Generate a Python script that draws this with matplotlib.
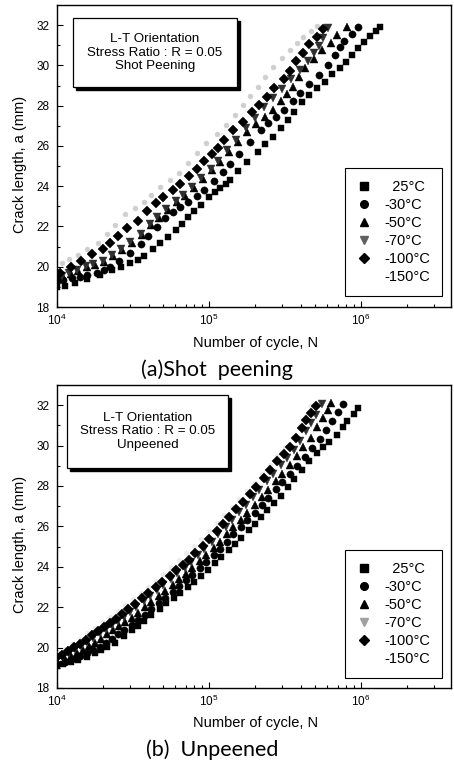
import numpy as np
import matplotlib
matplotlib.use('Agg')
import matplotlib.pyplot as plt
from matplotlib.patches import Rectangle
from matplotlib.ticker import LogLocator, NullFormatter, FixedLocator
from matplotlib.lines import Line2D

plt.rcParams['font.family'] = ['Liberation Sans', 'DejaVu Sans']
plt.rcParams['mathtext.fontset'] = 'custom'
plt.rcParams['mathtext.rm'] = 'Liberation Sans'

# ---------------- data: (log10 N, crack length a [mm]) ----------------
temps = ['25°C', '-30°C', '-50°C', '-70°C', '-100°C', '-150°C']

# (a) Shot peening
a_25 = [(4.00,19.00),(4.05,19.05),(4.12,19.20),(4.20,19.40),(4.28,19.60),(4.36,19.83),(4.42,20.00),(4.48,20.20),
        (4.53,20.35),(4.57,20.52),(4.63,20.86),(4.68,21.18),(4.73,21.50),(4.78,21.80),(4.82,22.14),(4.86,22.45),
        (4.90,22.75),(4.95,23.05),(5.00,23.45),(5.04,23.70),(5.07,23.90),(5.11,24.10),(5.14,24.30),(5.19,24.75),
        (5.25,25.20),(5.32,25.70),(5.37,26.10),(5.42,26.45),(5.47,26.90),(5.52,27.30),(5.56,27.70),(5.61,28.20),
        (5.66,28.55),(5.71,28.90),(5.76,29.20),(5.81,29.55),(5.86,29.85),(5.90,30.15),(5.94,30.50),(5.98,30.85),
        (6.02,31.15),(6.06,31.45),(6.10,31.70),(6.125,31.90)]
a_m30 = [(4.00,19.30),(4.04,19.35),(4.10,19.42),(4.15,19.50),(4.20,19.60),(4.26,19.70),(4.31,19.85),(4.35,20.00),
         (4.41,20.30),(4.48,20.70),(4.55,21.15),(4.60,21.55),(4.66,21.95),(4.71,22.40),(4.76,22.70),(4.81,22.95),
         (4.86,23.20),(4.92,23.50),(4.97,23.80),(5.03,24.25),(5.09,24.70),(5.14,25.10),(5.20,25.60),(5.27,26.20),
         (5.34,26.80),(5.39,27.15),(5.44,27.45),(5.49,27.80),(5.55,28.25),(5.60,28.65),(5.66,29.10),(5.72,29.50),
         (5.78,30.00),(5.83,30.50),(5.86,30.90),(5.89,31.20),(5.94,31.55),(5.98,31.90)]
a_m50 = [(4.00,19.50),(4.04,19.50),(4.09,19.65),(4.14,19.80),(4.20,20.00),(4.25,20.10),(4.31,20.25),(4.37,20.55),
         (4.43,20.85),(4.49,21.20),(4.56,21.60),(4.62,22.05),(4.67,22.40),(4.73,22.80),(4.79,23.20),(4.84,23.50),
         (4.90,23.90),(4.96,24.35),(5.02,24.80),(5.07,25.20),(5.13,25.70),(5.19,26.20),(5.25,26.70),(5.31,27.10),
         (5.37,27.45),(5.42,27.80),(5.47,28.25),(5.51,28.60),(5.55,28.95),(5.59,29.40),(5.63,29.85),(5.69,30.30),
         (5.74,30.75),(5.80,31.10),(5.84,31.50),(5.91,31.90)]
a_m70 = [(4.00,19.60),(4.03,19.55),(4.08,19.70),(4.13,19.85),(4.19,20.05),(4.24,20.15),(4.30,20.30),(4.36,20.60),
         (4.42,20.90),(4.48,21.25),(4.55,21.65),(4.61,22.10),(4.66,22.45),(4.72,22.85),(4.78,23.25),(4.83,23.55),
         (4.89,23.95),(4.95,24.40),(5.01,24.85),(5.06,25.25),(5.12,25.80),(5.18,26.30),(5.24,26.90),(5.30,27.40),
         (5.36,27.95),(5.42,28.40),(5.48,28.85),(5.54,29.30),(5.60,29.75),(5.65,30.20),(5.69,30.60),(5.72,30.95),
         (5.75,31.35),(5.78,31.85)]
a_m100 = [(4.00,19.60),(4.02,19.70),(4.09,20.00),(4.16,20.30),(4.23,20.65),(4.30,20.90),(4.35,21.20),(4.40,21.55),
          (4.46,21.90),(4.53,22.25),(4.59,22.75),(4.65,23.15),(4.70,23.45),(4.76,23.80),(4.81,24.10),(4.87,24.50),
          (4.92,24.85),(4.97,25.25),(5.02,25.60),(5.06,25.90),(5.10,26.30),(5.16,26.80),(5.22,27.20),(5.28,27.70),
          (5.33,28.05),(5.38,28.45),(5.43,28.90),(5.49,29.30),(5.53,29.70),(5.57,30.20),(5.62,30.60),(5.66,31.05),
          (5.71,31.40),(5.75,31.80)]
a_m150 = [(4.03,20.20),(4.08,20.40),(4.14,20.60),(4.20,20.90),(4.27,21.20),(4.33,21.65),(4.38,22.05),(4.45,22.60),
          (4.51,22.90),(4.57,23.20),(4.62,23.55),(4.68,23.95),(4.74,24.30),(4.80,24.65),(4.86,25.15),(4.92,25.65),
          (4.98,26.15),(5.05,26.60),(5.11,27.05),(5.17,27.55),(5.22,28.05),(5.27,28.50),(5.32,28.95),(5.37,29.40),
          (5.42,29.90),(5.48,30.35),(5.53,30.75),(5.58,31.10),(5.62,31.40),(5.67,31.70),(5.71,31.95)]

# (b) Unpeened
b_25 = [(4.00,19.10),(4.04,19.20),(4.09,19.30),(4.14,19.40),(4.20,19.55),(4.25,19.75),(4.29,19.90),(4.33,20.02),
        (4.38,20.25),(4.44,20.55),(4.49,20.85),(4.53,21.05),(4.57,21.30),(4.62,21.60),(4.68,21.90),(4.72,22.20),
        (4.77,22.45),(4.81,22.70),(4.86,23.00),(4.90,23.25),(4.95,23.55),(4.99,23.85),(5.04,24.20),(5.08,24.50),
        (5.13,24.85),(5.17,25.15),(5.21,25.45),(5.26,25.80),(5.30,26.10),(5.34,26.45),(5.38,26.80),(5.43,27.15),
        (5.47,27.50),(5.52,27.95),(5.56,28.35),(5.61,28.80),(5.66,29.25),(5.71,29.65),(5.75,29.95),(5.79,30.20),
        (5.84,30.50),(5.88,30.90),(5.91,31.20),(5.95,31.55),(5.98,31.85)]
b_m30 = [(4.00,19.20),(4.05,19.30),(4.10,19.45),(4.15,19.60),(4.20,19.75),(4.24,19.90),(4.28,20.05),(4.32,20.25),
         (4.36,20.45),(4.40,20.65),(4.44,20.85),(4.49,21.10),(4.53,21.35),(4.58,21.60),(4.62,21.90),(4.67,22.20),
         (4.71,22.45),(4.76,22.75),(4.80,23.05),(4.85,23.35),(4.89,23.60),(4.94,23.95),(4.98,24.25),(5.03,24.60),
         (5.07,24.90),(5.12,25.25),(5.16,25.60),(5.21,25.95),(5.25,26.30),(5.30,26.65),(5.35,27.05),(5.39,27.40),
         (5.44,27.85),(5.48,28.20),(5.53,28.60),(5.58,29.00),(5.63,29.45),(5.68,29.90),(5.73,30.35),(5.77,30.75),
         (5.81,31.20),(5.85,31.65),(5.88,32.05)]
b_m50 = [(4.00,19.30),(4.05,19.45),(4.09,19.60),(4.13,19.75),(4.17,19.90),(4.21,20.10),(4.25,20.25),(4.29,20.45),
         (4.33,20.65),(4.37,20.85),(4.41,21.05),(4.45,21.25),(4.49,21.45),(4.53,21.70),(4.58,22.00),(4.62,22.25),
         (4.67,22.55),(4.71,22.80),(4.76,23.10),(4.80,23.40),(4.85,23.65),(4.89,23.95),(4.94,24.30),(4.98,24.60),
         (5.03,24.95),(5.07,25.25),(5.12,25.60),(5.16,25.95),(5.21,26.30),(5.25,26.65),(5.30,27.05),(5.35,27.45),
         (5.39,27.80),(5.44,28.25),(5.48,28.60),(5.53,29.05),(5.58,29.50),(5.62,29.95),(5.67,30.40),(5.71,30.90),
         (5.75,31.35),(5.78,31.75),(5.80,32.10)]
b_m70 = [(4.00,19.45),(4.04,19.60),(4.08,19.75),(4.12,19.95),(4.16,20.10),(4.20,20.30),(4.24,20.50),(4.28,20.70),
         (4.32,20.90),(4.36,21.10),(4.40,21.30),(4.44,21.50),(4.48,21.75),(4.52,22.00),(4.57,22.30),(4.61,22.55),
         (4.66,22.85),(4.70,23.10),(4.75,23.40),(4.79,23.70),(4.84,23.95),(4.88,24.25),(4.93,24.60),(4.97,24.90),
         (5.02,25.25),(5.06,25.60),(5.11,25.95),(5.15,26.30),(5.20,26.70),(5.24,27.05),(5.29,27.45),(5.33,27.80),
         (5.38,28.25),(5.42,28.60),(5.47,29.05),(5.51,29.40),(5.56,29.80),(5.60,30.25),(5.64,30.70),(5.67,31.10),
         (5.70,31.50),(5.74,32.05)]
b_m100 = [(4.00,19.55),(4.03,19.65),(4.07,19.85),(4.11,20.05),(4.15,20.20),(4.19,20.40),(4.23,20.60),(4.27,20.80),
          (4.31,21.00),(4.35,21.20),(4.39,21.40),(4.43,21.65),(4.47,21.90),(4.51,22.15),(4.56,22.45),(4.60,22.70),
          (4.65,23.00),(4.69,23.25),(4.74,23.55),(4.78,23.85),(4.83,24.10),(4.87,24.35),(4.91,24.70),(4.96,25.05),
          (5.00,25.40),(5.05,25.75),(5.09,26.10),(5.13,26.45),(5.18,26.85),(5.22,27.20),(5.27,27.60),(5.31,27.95),
          (5.36,28.40),(5.40,28.80),(5.45,29.25),(5.49,29.60),(5.53,29.95),(5.57,30.40),(5.61,30.85),(5.64,31.25),
          (5.67,31.60),(5.70,31.95)]
b_m150 = [(4.00,19.70),(4.05,19.95),(4.10,20.20),(4.15,20.45),(4.20,20.70),(4.25,20.95),(4.30,21.25),(4.35,21.50),
          (4.40,21.80),(4.45,22.10),(4.50,22.40),(4.55,22.70),(4.60,23.00),(4.65,23.30),(4.70,23.65),(4.75,24.00),
          (4.80,24.35),(4.85,24.70),(4.90,25.05),(4.95,25.40),(5.00,25.75),(5.05,26.15),(5.10,26.55),(5.15,26.95),
          (5.20,27.35),(5.25,27.75),(5.30,28.15),(5.35,28.60),(5.40,29.05),(5.45,29.50),(5.50,29.95),(5.55,30.45),
          (5.60,30.95),(5.64,31.45),(5.67,31.95)]

series_a = [a_25, a_m30, a_m50, a_m70, a_m100, a_m150]
series_b = [b_25, b_m30, b_m50, b_m70, b_m100, b_m150]

box_lines_a = ['L-T Orientation', 'Stress Ratio : R = 0.05', 'Shot Peening']
box_lines_b = ['L-T Orientation', 'Stress Ratio : R = 0.05', 'Unpeened']
subtitles = ['(a)Shot  peening', '(b)  Unpeened']

# ---------------- styles ----------------
markers = ['s', 'o', '^', 'v', 'D', 'o']
sizes = [5.0, 5.2, 5.6, 5.6, 4.6, 3.6]
colors_a = ['black', 'black', 'black', '#303030', 'black', '#cfcfcf']
colors_b = ['black', 'black', 'black', '#303030', 'black', '#ececec']
legend_colors_a = ['black', 'black', 'black', '#606060', 'black', 'white']
legend_colors_b = ['black', 'black', 'black', '#a0a0a0', 'black', 'white']

W, H = 454, 762
fig = plt.figure(figsize=(W / 100, H / 100), dpi=100)

def px_rect(l, t, r, b):
    return [l / W, 1 - b / H, (r - l) / W, (b - t) / H]

axes_px = [(57, 5, 451, 307), (57, 385, 451, 688)]
textbox_px = [(73, 18, 237, 87), (67, 395, 228, 468)]
legend_px = [(345, 168, 442, 297), (345, 550, 442, 678)]
xlabel_y = [343, 723]
subtitle_pos = [(217, 370), (212, 750)]
ylabel_y = [164, 544]

for k, (series, cols, lcols, lines, sub) in enumerate(zip(
        [series_a, series_b], [colors_a, colors_b], [legend_colors_a, legend_colors_b],
        [box_lines_a, box_lines_b], subtitles)):
    l, t, r, b = axes_px[k]
    ax = fig.add_axes(px_rect(l, t, r, b))
    order = [5, 0, 1, 2, 3, 4]
    for i in order:
        pts = series[i]
        N = [10 ** p[0] for p in pts]
        a = [p[1] for p in pts]
        ax.plot(N, a, linestyle='none', marker=markers[i], ms=sizes[i],
                mfc=cols[i], mec=cols[i], mew=0.3, zorder=3)
    ax.set_xscale('log')
    ax.set_xlim(1e4, 3.9e6)
    ax.set_ylim(18, 33)
    ax.yaxis.set_major_locator(FixedLocator([18, 20, 22, 24, 26, 28, 30, 32]))
    ax.yaxis.set_minor_locator(FixedLocator([19, 21, 23, 25, 27, 29, 31]))
    ax.xaxis.set_major_locator(LogLocator(base=10, numticks=10))
    ax.xaxis.set_minor_locator(LogLocator(base=10, subs=np.arange(2, 10), numticks=20))
    ax.xaxis.set_minor_formatter(NullFormatter())
    ax.tick_params(which='both', direction='in', top=False, right=False, labelsize=8.5, width=0.8)
    ax.tick_params(which='major', length=4)
    ax.tick_params(which='minor', length=2)
    ax.tick_params(axis='y', which='major', pad=5.5)
    ax.tick_params(axis='x', which='major', pad=4)
    for s in ax.spines.values():
        s.set_linewidth(1.0)

    # text box with shadow
    tl, tt, tr, tb = textbox_px[k]
    sh = 3
    fig.patches.append(Rectangle(((tl + sh) / W, 1 - (tb + sh) / H), (tr - tl) / W, (tb - tt) / H,
                                 transform=fig.transFigure, facecolor='black', edgecolor='black', zorder=5))
    fig.patches.append(Rectangle((tl / W, 1 - tb / H), (tr - tl) / W, (tb - tt) / H,
                                 transform=fig.transFigure, facecolor='white', edgecolor='black',
                                 linewidth=0.9, zorder=6))
    fig.text((tl + tr) / 2 / W, 1 - (tt + tb) / 2 / H, '\n'.join(lines), ha='center', va='center',
             fontsize=9.6, linespacing=1.2, zorder=7)

    # legend
    ll, lt, lr, lb = legend_px[k]
    handles = [Line2D([], [], linestyle='none', marker=markers[i], ms=5.5 if i != 4 else 5,
                      mfc=lcols[i], mec=lcols[i]) for i in range(6)]
    labels = ['  ' + temps[0]] + temps[1:]
    leg = ax.legend(handles, labels, loc='upper left',
                    bbox_to_anchor=((ll - l) / (r - l), (b - lt) / (b - t)),
                    frameon=True, fancybox=False, edgecolor='black', framealpha=1,
                    fontsize=10.5, handlelength=1.0, handletextpad=0.9, labelspacing=0.28,
                    borderpad=0.8, borderaxespad=0)
    leg.get_frame().set_linewidth(0.8)
    leg.set_zorder(8)

    fig.text((l + r) / 2 / W + 0.003, 1 - xlabel_y[k] / H, 'Number of cycle, N', ha='center', va='center',
             fontsize=10.5)
    fig.text(20 / W, 1 - ylabel_y[k] / H, 'Crack length, a (mm)', ha='center', va='center',
             rotation=90, fontsize=10.5)
    fig.text(subtitle_pos[k][0] / W, 1 - subtitle_pos[k][1] / H, sub, ha='center', va='center',
             fontsize=15.5, family=['Lato', 'DejaVu Sans'], fontweight='normal', color='black')

fig.savefig('out.png', dpi=100)
